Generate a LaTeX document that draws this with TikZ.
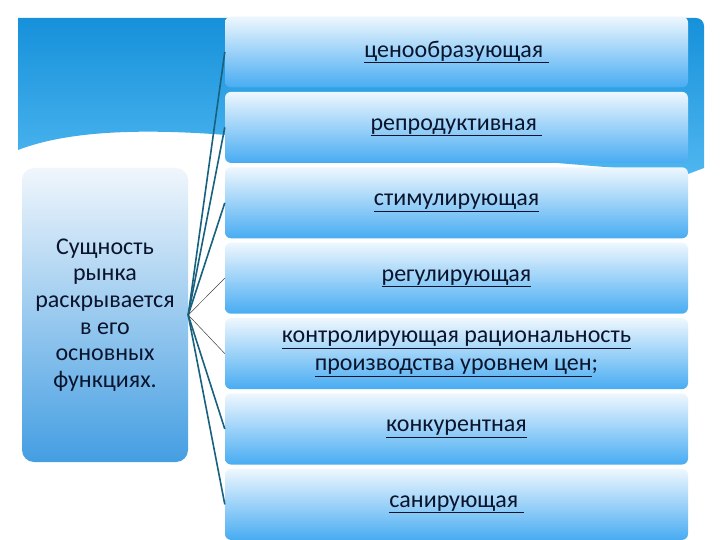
\documentclass[tikz,border=0pt]{standalone}
\usepackage{fontspec}
\setmainfont{Carlito}
\usetikzlibrary{positioning,calc}

\definecolor{bgtop}{RGB}{22,145,218}
\definecolor{bgbot}{RGB}{78,182,240}
\definecolor{boxtop}{RGB}{238,247,254}
\definecolor{boxmid}{RGB}{150,205,247}
\definecolor{boxbot}{RGB}{72,172,242}
\definecolor{coretop}{RGB}{240,246,252}
\definecolor{corebot}{RGB}{68,158,226}
\definecolor{txt}{RGB}{10,20,45}
\definecolor{link}{RGB}{24,98,128}

\begin{document}
\begin{tikzpicture}[x=1pt,y=-1pt]
    \tikzstyle{func}=[rectangle, rounded corners=6pt, minimum width=463pt, minimum height=71pt,
                      top color=boxtop, middle color=boxmid, bottom color=boxbot,
                      text=txt, align=center, inner sep=0pt,
                      font=\fontsize{24}{28}\selectfont]
    \tikzstyle{core}=[rectangle, rounded corners=12pt, minimum width=166pt, minimum height=294pt,
                      top color=coretop, bottom color=corebot,
                      text=txt, align=center, inner sep=0pt,
                      font=\fontsize{24}{26.6}\selectfont]
    \tikzstyle{thick link}=[draw=link, line width=1.6pt]
    \tikzstyle{thin link}=[draw=black!75, line width=0.5pt]

    \useasboundingbox (0,0) rectangle (720,540);
    \fill[white] (0,0) rectangle (720,540);

    % blue background with the white wave
    \shade[top color=bgtop, bottom color=bgbot]
        (18,150) -- (18,18) -- (696,18) to[out=0,in=90] (704,26) -- (704,168)
        -- (688,174) -- (260,138) .. controls (150,127) and (70,130) .. (18,150) -- cycle;

    % functions
    \node[func] (f1) at (456.5,52) {\underline{ценообразующая\ }};
    \node[func, below=4pt of f1] (f2) {\underline{репродуктивная\ }};
    \node[func, below=4pt of f2] (f3) {\underline{стимулирующая}};
    \node[func, below=4pt of f3] (f4) {\underline{регулирующая}};
    \node[func, below=4pt of f4] (f5) {\underline{контролирующая рациональность}\\\underline{производства уровнем цен};};
    \node[func, below=4pt of f5] (f6) {\underline{конкурентная}};
    \node[func, below=4pt of f6] (f7) {\underline{санирующая\ }};

    \node[core] (core) at (105,315) {Сущность\\рынка\\раскрывается\\в его\\основных\\функциях.};

    % connectors
    \foreach \n in {1,2,3,6,7}
        \draw[thick link] (core.east) -- (f\n.west);
    \foreach \n in {4,5}
        \draw[thin link] (core.east) -- (f\n.west);
\end{tikzpicture}
\end{document}
